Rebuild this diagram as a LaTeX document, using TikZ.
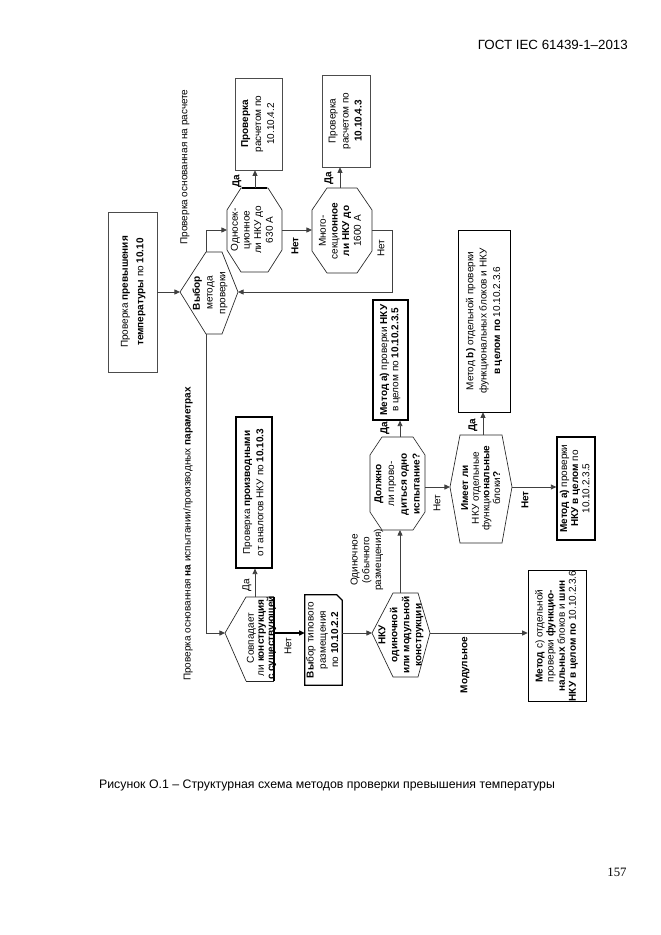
\documentclass[tikz,border=0pt]{standalone}
\usepackage{fontspec}
\setmainfont{Liberation Sans}
\newfontfamily\serifpn{Liberation Serif}
\usepackage{graphicx}
\usetikzlibrary{arrows.meta,calc}
\newcommand{\rt}[2][11]{\rotatebox{90}{\fontsize{9}{#1}\selectfont\begin{tabular}{@{}c@{}}#2\end{tabular}}}
\begin{document}
\begin{tikzpicture}[x=0.9pt,y=-0.9pt,
  every node/.style={inner sep=0pt, font=\fontsize{9}{11}\selectfont},
  thinbox/.style={draw=black!70, line width=0.5pt},
  thickbox/.style={draw=black, line width=1.1pt},
  shp/.style={draw=black!85, line width=0.6pt},
  conn/.style={draw=black!75, line width=0.8pt},
  arr/.style={conn, -{Triangle[length=5pt,width=4.5pt]}},
  lbl/.style={rotate=90, font=\fontsize{9}{11}\selectfont\bfseries},
  lbln/.style={rotate=90, font=\fontsize{9}{11}\selectfont}]
\fill[white] (0,0) rectangle (661,935);
\useasboundingbox (0,0) rectangle (661,935);

% page furniture
\node[anchor=east, font=\fontsize{12}{14}\selectfont] (hdr) at (628,45) {ГОСТ IEC 61439-1–2013};
\node[font=\fontsize{11.1}{14}\selectfont] (cap) at (327,785) {Рисунок О.1 – Структурная схема методов проверки превышения температуры};
\node[font=\serifpn\fontsize{11.5}{14}\selectfont] (pg) at (617,872) {157};

% rectangles
\node[thinbox, minimum width=44.1pt, minimum height=144pt] (S) at (132.5,292) {\rt[14]{Проверка \textbf{превышения}\\\textbf{температуры} по \textbf{10.10}}};
\node[thinbox, minimum width=42.3pt, minimum height=82.8pt] (R1) at (258.5,124) {\rt[11.7]{\textbf{Проверка}\\расчетом по\\10.10.4.2}};
\node[thinbox, minimum width=43.2pt, minimum height=82.8pt] (R2) at (346,121) {\rt[11.7]{Проверка\\расчетом по\\\textbf{10.10.4.3}}};
\node[thickbox, minimum width=32.4pt, minimum height=135.9pt] (R3) at (254,492.5) {\rt[12]{Проверка \textbf{производными}\\от аналогов НКУ по \textbf{10.10.3}}};
\node[minimum width=33.3pt, minimum height=81pt] (R4) at (323.5,640) {\rt[11]{\textbf{Вы}бор типового\\размещения\\по \textbf{10.10.2.2}}};
\draw[thickbox] (R4.south west) -- (R4.north west) -- ([xshift=-5pt]R4.north east) -- ([yshift=-5pt]R4.north east) -- (R4.south east) -- cycle;
\node[thickbox, minimum width=31.5pt, minimum height=108pt] (R5) at (390.5,360) {\rt[10]{\textbf{Метод а)} проверки \textbf{НКУ}\\в целом по \textbf{10.10.2.3.5}}};
\node[thinbox, draw=black, minimum width=46.8pt, minimum height=163.8pt] (R6) at (484,321) {\rt[12]{Метод \textbf{b)} отдельной проверки\\функциональных блоков и НКУ\\\textbf{в целом по} 10.10.2.3.6}};
\node[thickbox, minimum width=34.2pt, minimum height=92.7pt] (R7) at (576,488.5) {\rt[10]{\textbf{Метод а)} проверки\\\textbf{НКУ в целом} по\\10.10.2.3.5}};
\node[thinbox, draw=black, minimum width=52.2pt, minimum height=115.2pt] (R8) at (557,636) {\rt[10]{\textbf{Метод} с) отдельной\\проверки \textbf{функцио-}\\\textbf{нальных} блоков и \textbf{шин}\\\textbf{НКУ в целом по} 10.10.2.3.6}};

% octagon 1
\draw[shp] (241,188) -- (268,188) -- (282,210) -- (282,250) -- (268,272) -- (241,272) -- (227,250) -- (227,210) -- cycle;
\draw[black, line width=1.4pt] (242,188) -- (267,188);
\coordinate (O1t) at (255,188); \coordinate (O1l) at (227,230); \coordinate (O1r) at (282,230);
\node (O1) at (253,230) {\rt[10.5]{Односек-\\ционное\\ли НКУ до\\630 А}};
% octagon 2
\draw[shp] (327,188) -- (357,188) -- (372,210) -- (372,251) -- (357,273) -- (327,273) -- (312,251) -- (312,210) -- cycle;
\coordinate (O2t) at (340,188); \coordinate (O2l) at (312,230); \coordinate (O2r) at (372,230);
\node (O2) at (341,231) {\rt[10.5]{Много-\\секци\textbf{онное}\\\textbf{ли НКУ до}\\1600 А}};
% octagon 3
\draw[shp] (382,437) -- (413,437) -- (425,455) -- (425,512) -- (413,530) -- (382,530) -- (370,512) -- (370,455) -- cycle;
\coordinate (O3t) at (400,437); \coordinate (O3b) at (400,530); \coordinate (O3r) at (425,487);
\node (O3) at (398,484) {\rt[11.5]{\textbf{Должно}\\ли прово-\\\textbf{диться одно}\\\textbf{испытание?}}};

% decision 1
\draw[shp] (180,292) -- (206,252) -- (222,252) -- (238,292) -- (222,334) -- (206,334) -- cycle;
\coordinate (D1l) at (180,292); \coordinate (D1r) at (238,292);
\coordinate (D1t) at (206,252); \coordinate (D1b) at (206,334);
\node (D1) at (210,293) {\rt[11.5]{\textbf{Выбор}\\метода\\проверки}};
% decision 2
\draw[shp] (246,681) -- (225,633) -- (246,597) -- (274,597);
\draw[black, line width=1.4pt] (274,597) -- (274,681);
\draw[shp] (274,681) -- (246,681);
\coordinate (D2l) at (225,633); \coordinate (D2t) at (255,597); \coordinate (D2r) at (274,633);
\node (D2) at (262,638) {\rt[9]{Совпадает\\ли \textbf{конструкция}\\\textbf{с существующей}}};
% decision 3
\draw[shp] (372,633) -- (393,593) -- (418,593) -- (430,633) -- (418,677) -- (393,677) -- cycle;
\coordinate (D3l) at (372,633); \coordinate (D3t) at (400,593); \coordinate (D3r) at (430,633);
\node (D3) at (401,635) {\rt[10.8]{\textbf{НКУ}\\\textbf{одиночной}\\\textbf{или модульной}\\\textbf{конструкции}}};
% decision 4
\draw[shp] (450,487) -- (460,435) -- (502,435) -- (512,487) -- (502,543) -- (460,543) -- cycle;
\coordinate (D4l) at (450,487); \coordinate (D4t) at (483,435); \coordinate (D4r) at (512,487);
\node (D4) at (482,488) {\rt[9.6]{\textbf{Имеет ли}\\НКУ отдельные\\функци\textbf{ональные}\\блоки\textbf{?}}};

% connectors
\draw[arr] (S.east) -- (D1l);
\draw[arr] (D1t) -- (D1t |- O1l) -- (O1l);
\draw[arr] (O1t) -- (O1t |- R1.south);
\draw[arr] (O1r) -- (O2l);
\draw[arr] (O2t) -- (O2t |- R2.south);
\draw[arr] (O2r) -- ++(20,0) |- (D1r);
\draw[arr] (D1b) |- (D2l);
\draw[arr] (D2t) -- (D2t |- R3.south);
\draw[arr, line width=1.3pt, draw=black] (D2r) -- (D2r -| R4.west);
\draw[arr] (R4.east |- D3l) -- (D3l);
\draw[arr] (D3t) -- (D3t |- O3b);
\draw[arr] (D3r) -- (D3r -| R8.west);
\draw[arr] (O3t) -- (O3t |- R5.south);
\draw[arr] (O3r) -- (D4l);
\draw[arr] (D4t) -- (D4t |- R6.south);
\draw[arr] (D4r) -- (D4r -| R7.west);

% labels
\node[lbl] (l1) at (237,181) {Да};
\node[lbl] (l2) at (295,246) {Нет};
\node[lbl] (l3) at (329,178) {Да};
\node[lbln] (l4) at (381,248) {Нет};
\node[lbln] (l5) at (247,585) {Да};
\node[lbln] (l6) at (288,646) {Нет};
\node[lbl] (l7) at (385,428) {Да};
\node[lbln] (l8) at (437,503) {Нет};
\node[lbl] (l9) at (473,425) {Да};
\node[lbl] (l10) at (525,500) {Нет};
\node[lbln] (t1) at (185,167) {Проверка основанная на расчете};
\node[lbln] (t2) at (188,534) {Проверка основанная \textbf{на} испытании/производных \textbf{параметрах}};
\node (t3) at (367,560) {\rt[10.5]{Одиночное\\(обычного\\размещения)}};
\node[lbl] (t4) at (465,665) {Модульное};
\end{tikzpicture}
\end{document}
